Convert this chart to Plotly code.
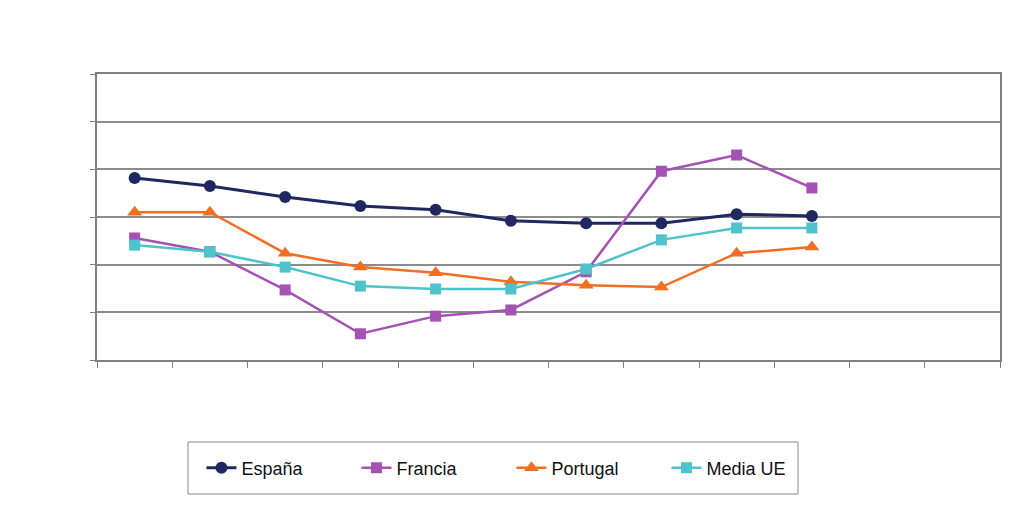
import plotly.graph_objects as go

categories = ["P1", "P2", "P3", "P4", "P5", "P6", "P7", "P8", "P9", "P10", "P11", "P12"]

espana = [3.82, 3.65, 3.42, 3.23, 3.15, 2.92, 2.87, 2.87, 3.06, 3.02]
francia = [2.56, 2.27, 1.47, 0.55, 0.92, 1.05, 1.85, 3.96, 4.30, 3.61]
portugal = [3.10, 3.10, 2.24, 1.95, 1.83, 1.64, 1.57, 1.53, 2.24, 2.37]
media_ue = [2.41, 2.27, 1.95, 1.55, 1.49, 1.49, 1.91, 2.52, 2.77, 2.77]

series = [
    ("España", espana, "#1f2860", "circle", 12, 3),
    ("Francia", francia, "#a452b3", "square", 11, 2.5),
    ("Portugal", portugal, "#f26f22", "triangle-up", 13, 2.5),
    ("Media UE", media_ue, "#4ec3cc", "square", 11, 2.5),
]

fig = go.Figure()
for name, vals, color, sym, size, lw in series:
    fig.add_trace(go.Scatter(
        x=categories[:len(vals)], y=vals, name=name, mode="lines+markers",
        line=dict(color=color, width=lw),
        marker=dict(symbol=sym, size=size, color=color),
    ))

# legend frame
fig.add_shape(type="rect", xref="paper", yref="paper",
              x0=(188 - 97) / 903, x1=(798 - 97) / 903,
              y0=(360 - 494) / 286, y1=(360 - 442) / 286,
              line=dict(color="#8a8a8a", width=1), fillcolor="white", layer="below")

fig.update_layout(
    width=1006, height=501,
    margin=dict(l=89, r=14, t=66, b=149),
    paper_bgcolor="white", plot_bgcolor="white",
    font=dict(family="Liberation Sans Narrow, Arial Narrow, Liberation Sans, sans-serif", size=17, color="#111111"),
    showlegend=True,
    legend=dict(
        orientation="h", x=0.459, xanchor="center", y=-0.378, yanchor="middle",
        borderwidth=0, bgcolor="rgba(0,0,0,0)",
        entrywidth=110,
        font=dict(size=18),
    ),
)
fig.update_xaxes(
    type="category", categoryorder="array", categoryarray=categories,
    range=[-0.5, 11.5], tickson="boundaries", ticks="outside", ticklen=6,
    tickcolor="#808080", tickwidth=1, showticklabels=False, showgrid=False,
    showline=True, linecolor="#808080", linewidth=2, mirror=True, zeroline=False,
)
fig.update_yaxes(
    range=[0, 6], dtick=1, tick0=0, ticks="outside", ticklen=5,
    tickcolor="#808080", showticklabels=False,
    showgrid=True, gridcolor="#8c8c8c", gridwidth=1.5,
    showline=True, linecolor="#808080", linewidth=2, mirror=True, zeroline=False,
)

fig.write_html("out.html")
